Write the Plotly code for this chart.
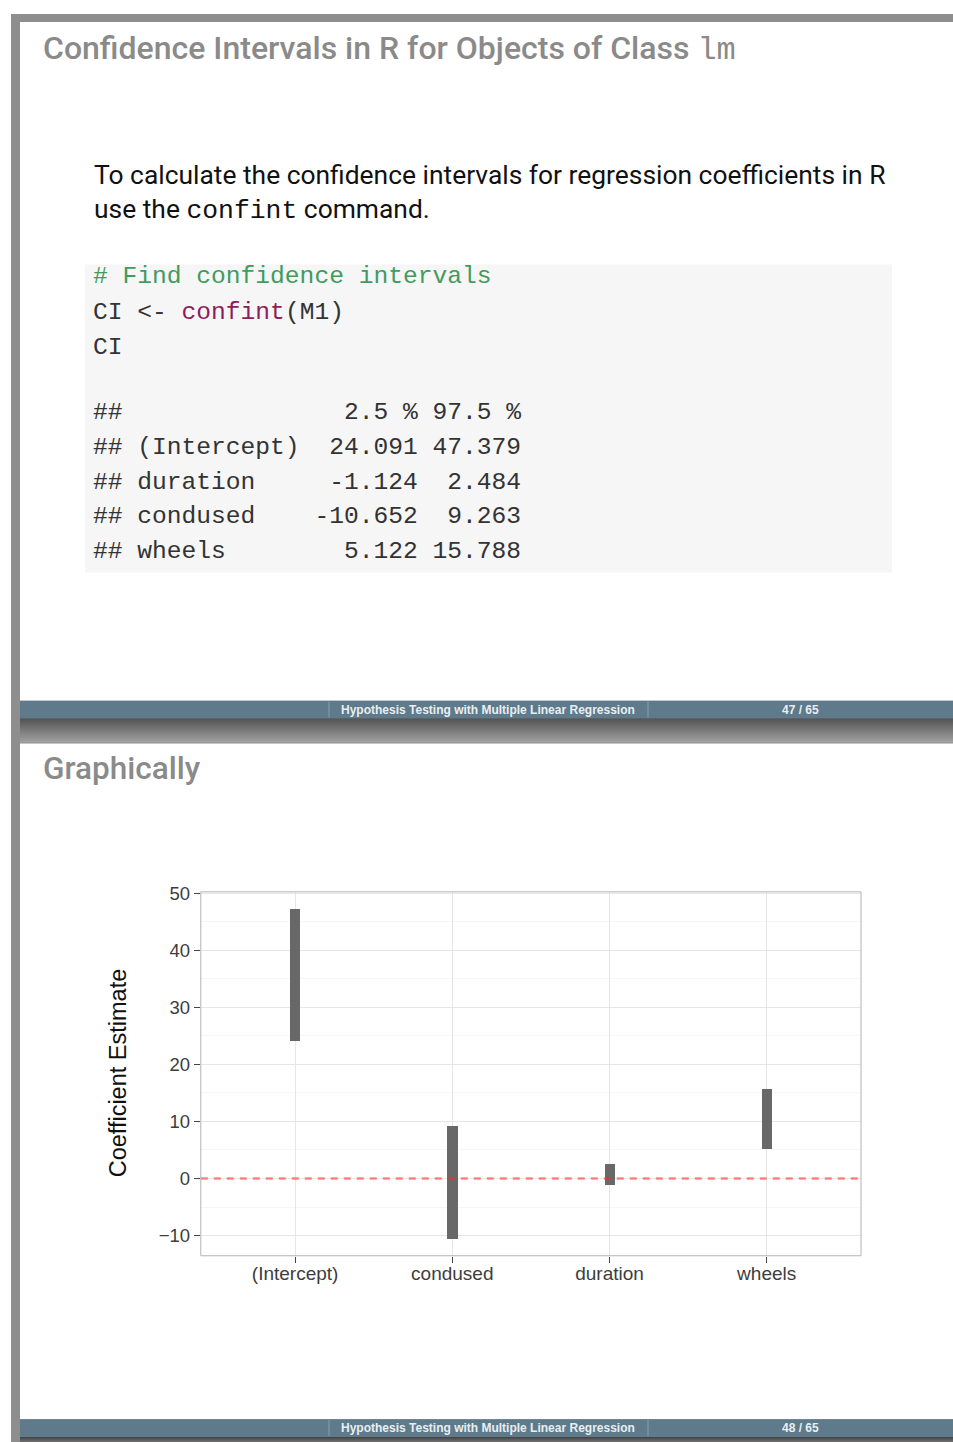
import plotly.graph_objects as go

W, H = 953, 1442

# confint(M1) output
terms = ["(Intercept)", "duration", "condused", "wheels"]
lower = [24.091, -1.124, -10.652, 5.122]
upper = [47.379, 2.484, 9.263, 15.788]
y_ticks = [-10, 0, 10, 20, 30, 40, 50]

slide_titles = ["Confidence Intervals in R for Objects of Class ", "Graphically"]
footer_text = "Hypothesis Testing with Multiple Linear Regression"
page_labels = ["47 / 65", "48 / 65"]

MONO = "Liberation Mono, Courier New, monospace"
SANS = "Roboto, Lato, sans-serif"
PLOT_FONT = "Liberation Sans, Arial, sans-serif"


def px(x):
    return x / W


def py(y):
    return 1 - y / H


shapes = []
annotations = []


def rect(x0, y0, x1, y1, color, layer="below"):
    shapes.append(dict(type="rect", xref="paper", yref="paper",
                       x0=px(x0), x1=px(x1), y0=py(y1), y1=py(y0),
                       fillcolor=color, line=dict(width=0), layer=layer))


def vline(x, y0, y1, color, width=1):
    shapes.append(dict(type="line", xref="paper", yref="paper",
                       x0=px(x), x1=px(x), y0=py(y1), y1=py(y0),
                       line=dict(color=color, width=width), layer="below"))


def text(x, y, s, size, color, family=SANS, anchor="left", angle=0, weight="normal"):
    annotations.append(dict(xref="paper", yref="paper", x=px(x), y=py(y),
                            text=s, showarrow=False, xanchor=anchor,
                            yanchor="middle", textangle=angle,
                            font=dict(size=size, color=color, family=family,
                                      weight=weight)))


def mono(s):
    return s.replace(" ", "\u00a0")


def gradient(y0, y1, c0, c1, x0=20, x1=W):
    n = int(y1 - y0)
    for i in range(n):
        t = i / max(n - 1, 1)
        c = [round(a + (b - a) * t) for a, b in zip(c0, c1)]
        rect(x0, y0 + i, x1, y0 + i + 1, f"rgb({c[0]},{c[1]},{c[2]})")


# ---- viewer frame ----
rect(11, 5, W, H, "#8e8e8e")
rect(20, 13, W, 696, "#ffffff")
rect(20, 739, W, 1419, "#ffffff")

# ---- footers ----
FOOT = "#5e7a8b"
for top, label in zip([696, 1419], page_labels):
    rect(20, top, W, top + 18, FOOT)
    vline(329, top + 1, top + 17, "#86a0b0")
    vline(648, top + 1, top + 17, "#86a0b0")
    text(488, top + 9, footer_text, 12, "#e9eef2",
         family="Liberation Sans, Arial, sans-serif", anchor="center", weight="bold")
    text(800, top + 9, label, 12, "#e9eef2",
         family="Liberation Sans, Arial, sans-serif", anchor="center", weight="bold")
gradient(714, 738, (66, 66, 66), (165, 165, 165))
gradient(1437, 1442, (70, 70, 70), (110, 110, 110))

# ---- slide 1 ----
TITLE_GRAY = "#8a8a8a"
text(41, 40, slide_titles[0]
     + f'<span style="font-family:{MONO};font-weight:normal">lm</span>', 32, TITLE_GRAY,
     weight=500)
text(92, 167, "To calculate the confidence intervals for regression coefficients in R",
     26.4, "#111111")
text(92, 202, "use the " + f'<span style="font-family:{MONO}">confint</span>'
     + " command.", 26.4, "#111111")

rect(85, 257, 892, 567, "#f6f6f6")
CODE = "#333333"
CS = 24.6
text(91, 269, mono("# Find confidence intervals"), CS, "#3f9c5e", family=MONO)
text(91, 305, mono("CI &lt;- ") + '<span style="fill:#8e1d5b">confint</span>'
     + "(M1)", CS, CODE, family=MONO)
text(91, 341, "CI", CS, CODE, family=MONO)

header = "## " + " " * 11 + " " + "2.5 %".rjust(7) + " " + "97.5 %".rjust(6)
rows = [header] + [
    "## " + t.ljust(11) + " " + f"{lo:.3f}".rjust(7) + " " + f"{hi:.3f}".rjust(6)
    for t, lo, hi in zip(terms, lower, upper)
]
for y, line in zip([406, 441, 476, 511, 546], rows):
    text(91, y, mono(line), CS, CODE, family=MONO)

# ---- slide 2 ----
text(41, 764, slide_titles[1], 31.5, TITLE_GRAY, weight=500)

# panel extents follow ggplot's default expansion
lo_all, hi_all = min(lower), max(upper)
pad = 0.05 * (hi_all - lo_all)
y_range = [lo_all - pad, hi_all + pad]
order = sorted(terms)

fig = go.Figure()
fig.add_trace(go.Bar(
    x=terms, y=[h - l for l, h in zip(lower, upper)], base=lower,
    width=0.064, marker=dict(color="#686868", line=dict(width=0)),
    hoverinfo="skip", showlegend=False,
))

# zero reference
shapes.append(dict(type="line", xref="x domain", yref="y", x0=0, x1=1, y0=0, y1=0,
                   line=dict(color="rgba(255,40,40,0.55)", width=2.5, dash="7px,6px"),
                   layer="above"))
# panel border
shapes.append(dict(type="rect", xref="x domain", yref="y domain", x0=0, x1=1, y0=0, y1=1,
                   line=dict(color="#b3b3b3", width=1), layer="above"))

text(118, 1071, "Coefficient Estimate", 23.5, "#111111", family=PLOT_FONT,
     anchor="center", angle=-90)

fig.update_layout(
    width=W, height=H, autosize=False,
    margin=dict(l=0, r=0, t=0, b=0),
    paper_bgcolor="#ffffff", plot_bgcolor="rgba(0,0,0,0)",
    shapes=shapes, annotations=annotations, bargap=0,
    xaxis=dict(
        domain=[px(200.8), px(861)], type="category",
        categoryorder="array", categoryarray=order, range=[-0.6, len(order) - 0.4],
        showgrid=True, gridcolor="#e6e6e6", gridwidth=1,
        ticks="outside", ticklen=6, tickcolor="#444444", tickwidth=1,
        ticklabelstandoff=-6,
        tickfont=dict(size=19, color="#3d3d3d", family=PLOT_FONT),
        showline=False, zeroline=False, fixedrange=True,
    ),
    yaxis=dict(
        domain=[py(1254.6), py(888.4)], range=y_range,
        tickvals=y_ticks, showgrid=True, gridcolor="#e6e6e6", gridwidth=1,
        minor=dict(dtick=5, tick0=0, showgrid=True, gridcolor="#f6f6f6", ticks=""),
        ticks="outside", ticklen=6, tickcolor="#444444", tickwidth=1,
        tickfont=dict(size=18.5, color="#3d3d3d", family=PLOT_FONT),
        showline=False, zeroline=False, fixedrange=True,
    ),
)

fig.write_html("out.html")
